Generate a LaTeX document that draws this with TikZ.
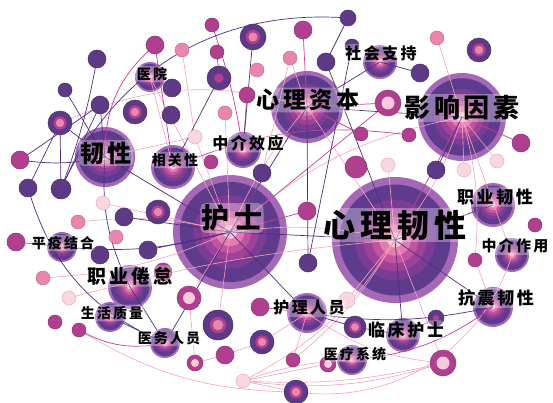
\documentclass[tikz,border=0pt]{standalone}
\usepackage{fontspec}
\newfontfamily\cjk{Noto Sans CJK SC}[LetterSpace=15]
\usetikzlibrary{positioning}

% ring colours of the keyword nodes (outside to centre)
\definecolor{ringA}{HTML}{A468B6}
\definecolor{ringB}{HTML}{5E3B8C}
\definecolor{ringC}{HTML}{7B3C94}
\definecolor{ringD}{HTML}{9C4299}
\definecolor{ringE}{HTML}{C2549F}
\definecolor{ringF}{HTML}{E27DB2}
\definecolor{ringG}{HTML}{F9CBD8}
% small nodes and links
\definecolor{nodedk}{HTML}{5E3A86}
\definecolor{nodemg}{HTML}{B0408F}
\definecolor{nodepk}{HTML}{E886AE}
\definecolor{nodelt}{HTML}{F8D8DE}
\definecolor{edgepk}{HTML}{F6A2BA}
\definecolor{edgemg}{HTML}{C2409A}
\definecolor{edgedk}{HTML}{4F2E80}

\pgfdeclarelayer{paper}
\pgfdeclarelayer{rings}
\pgfdeclarelayer{links}
\pgfsetlayers{paper,rings,links,main}

\tikzset{
  hub/.style={circle,inner sep=0pt,fill=ringA},
  dot/.style={circle,inner sep=0pt,line width=0.5pt},
  dk/.style={dot,fill=nodedk,draw=nodedk!80!black,minimum size=#1*2pt},
  mg/.style={dot,fill=nodemg,draw=nodemg!80!black,minimum size=#1*2pt},
  pk/.style={dot,fill=nodepk,draw=nodepk!85!black,minimum size=#1*2pt},
  lt/.style={dot,fill=nodelt,draw=nodepk!70!white,minimum size=#1*2pt},
  dkpk/.style={dk=#1,path picture={\fill[nodemg] (path picture bounding box.center) circle (#1*0.55pt);
    \fill[nodepk] (path picture bounding box.center) circle (#1*0.35pt);}},
  dkmg/.style={dk=#1,path picture={\fill[nodemg] (path picture bounding box.center) circle (#1*0.4pt);}},
  mglt/.style={mg=#1,path picture={\fill[ringG] (path picture bounding box.center) circle (#1*0.5pt);}},
  ep/.style={edgepk,line width=0.6pt},
  em/.style={edgemg,line width=0.7pt},
  ed/.style={edgedk,line width=0.7pt},
  word/.style={font=\cjk\bfseries,text=black,inner sep=1.5pt,rounded corners=5pt,
    fill=white,fill opacity=0.3,text opacity=1},
}

% keyword node with tree rings
\newcommand{\hubnode}[3]{%
  \begin{pgfonlayer}{rings}
  \node[hub,minimum size={2*#3 pt}] (#1) at (#2) {};
  \foreach \f/\c in {0.88/ringB,0.64/ringC,0.5/ringD,0.37/ringE,0.25/ringF,0.12/ringG}
    \fill[\c] (#1.center) circle ({\f*#3 pt});
  \end{pgfonlayer}}
\newcommand{\kw}[2]{\fontsize{#1}{#1}\selectfont #2}

\begin{document}
\begin{tikzpicture}[x=1pt,y=-1pt]
  \begin{pgfonlayer}{paper}
  \fill[white] (0,0) rectangle (553,403);
  \end{pgfonlayer}
  \useasboundingbox (0,0) rectangle (553,403);

  % keyword nodes
  \hubnode{resil}{395,240}{63}
  \hubnode{nurse}{230,232}{57}
  \hubnode{factor}{462,117}{44}
  \hubnode{capital}{307,107}{36}
  \hubnode{tough}{105,157}{30}
  \hubnode{burnout}{130,287}{22}
  \hubnode{correl}{173,167}{22}
  \hubnode{jobres}{493,205}{22}
  \hubnode{quake}{493,307}{20}
  \hubnode{staff}{307,313}{20}
  \hubnode{mediate}{243,150}{18}
  \hubnode{support}{380,62}{17}
  \hubnode{mediation}{512,255}{17}
  \hubnode{clinic}{403,335}{17}
  \hubnode{medsys}{352,360}{15}
  \hubnode{medstaff}{165,343}{15}
  \hubnode{life}{110,317}{15}
  \hubnode{epid}{62,247}{15}
  \hubnode{hospital}{150,77}{15}

  % small nodes
  \node[mg=9] (a1) at (155,45) {};
  \node[mg=7] (a2) at (212,25) {};
  \node[dkpk=13] (a3) at (253,37) {};
  \node[pk=7] (a4) at (182,50) {};
  \node[mg=7] (a5) at (217,52) {};
  \node[dk=9] (a6) at (97,59) {};
  \node[dk=7] (a7) at (65,90) {};
  \node[dk=9] (a8) at (100,105) {};
  \node[dkpk=12] (a9) at (60,123) {};
  \node[dkpk=12] (a10) at (135,112) {};
  \node[dk=9] (a11) at (172,88) {};
  \node[dkmg=12] (a12) at (219,78) {};
  \node[pk=7] (a13) at (257,70) {};
  \node[mg=8] (a14) at (247,95) {};
  \node[pk=7] (a15) at (225,113) {};
  \node[dk=9] (a16) at (171,115) {};
  \node[lt=7] (a17) at (195,137) {};
  \node[mg=9] (a18) at (20,160) {};
  \node[dk=9] (a19) at (28,188) {};
  \node[dk=10] (a20) at (61,189) {};
  \node[mg=7] (a21) at (211,162) {};
  \node[dk=9] (a22) at (262,173) {};
  \node[dk=8] (b1) at (348,18) {};
  \node[mg=9] (b2) at (303,30) {};
  \node[pk=7] (b3) at (290,58) {};
  \node[dk=9] (b4) at (326,62) {};
  \node[dk=7] (b5) at (352,46) {};
  \node[dk=9] (b6) at (420,73) {};
  \node[pk=7] (b7) at (437,38) {};
  \node[dkpk=12] (b8) at (479,50) {};
  \node[mglt=13] (b9) at (388,103) {};
  \node[mg=7] (b10) at (361,134) {};
  \node[mg=7] (b11) at (409,135) {};
  \node[mg=9] (b12) at (521,143) {};
  \node[lt=7] (b13) at (388,165) {};
  \node[mg=11] (b14) at (356,167) {};
  \node[dk=9] (b15) at (436,170) {};
  \node[lt=7] (b16) at (464,170) {};
  \node[lt=7] (b17) at (497,161) {};
  \node[mg=9] (c1) at (307,211) {};
  \node[mg=7] (c2) at (535,225) {};
  \node[mg=7] (c3) at (475,260) {};
  \node[dk=9] (c4) at (308,263) {};
  \node[lt=8] (c5) at (347,300) {};
  \node[dkpk=11] (c6) at (355,327) {};
  \node[dkmg=8] (c7) at (436,318) {};
  \node[mglt=13] (c8) at (443,363) {};
  \node[mg=7] (c9) at (293,360) {};
  \node[mglt=8] (c10) at (328,364) {};
  \node[dkpk=12] (c11) at (296,392) {};
  \node[lt=7] (d1) at (103,203) {};
  \node[dkpk=12] (d2) at (158,212) {};
  \node[pk=7] (d3) at (78,222) {};
  \node[dk=9] (d4) at (124,217) {};
  \node[pk=7] (d5) at (116,237) {};
  \node[mg=9] (d6) at (16,242) {};
  \node[dk=9] (d7) at (100,255) {};
  \node[dk=9] (d8) at (148,250) {};
  \node[mg=9] (d9) at (163,272) {};
  \node[pk=7] (d10) at (43,278) {};
  \node[lt=7] (d11) at (69,298) {};
  \node[mglt=12] (d12) at (189,298) {};
  \node[mg=7] (d13) at (55,322) {};
  \node[mg=7] (d14) at (79,330) {};
  \node[dkpk=15] (d15) at (218,325) {};
  \node[mg=9] (d16) at (260,307) {};
  \node[dkpk=12] (d17) at (262,342) {};
  \node[mg=9] (d18) at (225,355) {};
  \node[mglt=8] (d19) at (195,363) {};
  \node[lt=7] (d20) at (243,381) {};

  % links
  \begin{pgfonlayer}{links}
  \draw[ep] (nurse.center) to[bend left=10] (resil.center);
  \draw[ep] (nurse.center) -- (capital.center);
  \draw[ep] (nurse.center) to[bend left=8] (capital.center);
  \draw[ep] (nurse.center) to[bend left=15] (factor.center);
  \draw[ep] (resil.center) -- (capital.center);
  \draw[ep] (resil.center) to[bend right=10] (factor.center);
  \draw[ep] (nurse.center) -- (d12.center);
  \draw[ep] (nurse.center) -- (d15.center);
  \draw[ep] (nurse.center) -- (d1.center);
  \draw[ep] (nurse.center) to[bend right=10] (d3.center);
  \draw[ep] (nurse.center) to[bend left=10] (d10.center);
  \draw[ep] (nurse.center) -- (a17.center);
  \draw[ep] (nurse.center) -- (hospital.center);
  \draw[ep] (nurse.center) -- (a15.center);
  \draw[ep] (resil.center) -- (c8.center);
  \draw[ep] (resil.center) -- (c5.center);
  \draw[ep] (resil.center) to[bend left=10] (c9.center);
  \draw[ep] (resil.center) to[bend left=15] (d20.center);
  \draw[ep] (resil.center) -- (jobres.center);
  \draw[ep] (resil.center) -- (b13.center);
  \draw[ep] (d20.center) -- (c11.center);
  \draw[ep] (d20.center) -- (c10.center);
  \draw[ep] (d20.center) to[bend left=8] (medsys.center);
  \draw[ep] (c8.center) to[bend left=8] (d20.center);
  \draw[ep] (c8.center) to[bend left=12] (d20.center);
  \draw[ep] (mediation.center) to[bend left=40] (c11.center);
  \draw[ep] (b7.center) -- (factor.center);
  \draw[ep] (b17.center) -- (factor.center);
  \draw[ep] (b16.center) -- (factor.center);
  \draw[ep] (d19.center) -- (d18.center);
  \draw[ep] (d18.center) -- (d17.center);
  \draw[ep] (d17.center) -- (staff.center);
  \draw[ep] (d19.center) -- (d12.center);
  \draw[ep] (staff.center) -- (c9.center);
  \draw[ep] (staff.center) to[bend right=15] (c8.center);
  \draw[ep] (b3.center) -- (capital.center);
  \draw[ep] (b3.center) -- (a22.center);
  \draw[ep] (a4.center) -- (a17.center);
  \draw[ep] (hospital.center) -- (correl.center);
  \draw[ep] (tough.center) -- (a17.center);
  \draw[ep] (d14.center) to[bend right=15] (c11.center);
  \draw[ep] (capital.center) to[bend right=20] (a9.center);
  \draw[ep] (factor.center) to[bend left=10] (c3.center);
  \draw[ep] (quake.center) -- (c3.center);
  \draw[ep] (mediation.center) -- (factor.center);
  \draw[ep] (d11.center) to[bend left=5] (resil.center);
  \draw[em] (a1.center) to[bend right=25] (tough.center);
  \draw[em] (a1.center) -- (correl.center);
  \draw[em] (a2.center) to[bend left=5] (mediate.center);
  \draw[em] (a5.center) -- (a12.center);
  \draw[em] (capital.center) -- (b9.center);
  \draw[em] (b9.center) -- (nurse.center);
  \draw[em] (b12.center) -- (factor.center);
  \draw[em] (factor.center) -- (resil.center);
  \draw[em] (b11.center) to[bend right=15] (correl.center);
  \draw[em] (epid.center) -- (d6.center);
  \draw[em] (clinic.center) -- (c7.center);
  \draw[em] (medsys.center) to[bend right=15] (quake.center);
  \draw[em] (d14.center) to[bend right=20] (medstaff.center);
  \draw[em] (b2.center) -- (capital.center);
  \draw[em] (a14.center) -- (mediate.center);
  \draw[em] (b10.center) -- (capital.center);
  \draw[em] (c1.center) -- (nurse.center);
  \draw[em] (staff.center) -- (d16.center);
  \draw[ed] (tough.center) -- (a9.center);
  \draw[ed] (tough.center) -- (a8.center);
  \draw[ed] (a7.center) -- (tough.center);
  \draw[ed] (a9.center) -- (a19.center);
  \draw[ed] (a9.center) -- (a20.center);
  \draw[ed] (a8.center) -- (a18.center);
  \draw[ed] (a8.center) -- (a20.center);
  \draw[ed] (a20.center) to[bend left=35] (b1.center);
  \draw[ed] (tough.center) -- (nurse.center);
  \draw[ed] (tough.center) to[bend right=15] (burnout.center);
  \draw[ed] (tough.center) to[bend left=10] (a18.center);
  \draw[ed] (nurse.center) -- (resil.center);
  \draw[ed] (capital.center) -- (nurse.center);
  \draw[ed] (a3.center) -- (mediate.center);
  \draw[ed] (a12.center) -- (correl.center);
  \draw[ed] (resil.center) -- (quake.center);
  \draw[ed] (resil.center) -- (clinic.center);
  \draw[ed] (nurse.center) -- (staff.center);
  \draw[ed] (quake.center) to[bend left=10] (staff.center);
  \draw[ed] (clinic.center) -- (c6.center);
  \draw[ed] (nurse.center) -- (medstaff.center);
  \draw[ed] (burnout.center) -- (medstaff.center);
  \draw[ed] (life.center) -- (medstaff.center);
  \draw[ed] (resil.center) -- (jobres.center);
  \draw[ed] (factor.center) -- (b15.center);
  \draw[ed] (factor.center) -- (capital.center);
  \draw[ed] (support.center) -- (capital.center);
  \draw[ed] (support.center) -- (b6.center);
  \draw[ed] (b4.center) -- (resil.center);
  \draw[ed] (b1.center) -- (b4.center);
  \draw[ed] (b5.center) -- (c4.center);
  \draw[ed] (epid.center) to[bend right=10] (nurse.center);
  \draw[ed] (a19.center) to[bend right=25] (medstaff.center);
  \draw[ed] (a6.center) to[bend left=5] (a20.center);
  \draw[ed] (c4.center) -- (capital.center);
  \draw[ed] (d8.center) -- (nurse.center);
  \draw[ed] (staff.center) -- (c6.center);
  \draw[ed] (d4.center) -- (nurse.center);
  \end{pgfonlayer}

  % keyword labels
  \node[word] (t1) at (395,225) {\kw{32}{心理韧性}};
  \node[word] (t2) at (232,218) {\kw{28}{护士}};
  \node[word] (t3) at (462,108) {\kw{26}{影响因素}};
  \node[word] (t4) at (308,100) {\kw{23}{心理资本}};
  \node[word] (t5) at (106,153) {\kw{24}{韧性}};
  \node[word] (t6) at (130,276) {\kw{19}{职业倦怠}};
  \node[word] (t7) at (248,143) {\kw{16}{中介效应}};
  \node[word] (t8) at (381,53) {\kw{16}{社会支持}};
  \node[word] (t9) at (152,74) {\kw{14}{医院}};
  \node[word] (t10) at (175,160) {\kw{14}{相关性}};
  \node[word] (t11) at (495,197) {\kw{17}{职业韧性}};
  \node[word] (t12) at (515,246) {\kw{15}{中介作用}};
  \node[word] (t13) at (496,298) {\kw{17}{抗震韧性}};
  \node[word] (t14) at (406,330) {\kw{17}{临床护士}};
  \node[word] (t15) at (309,308) {\kw{16}{护理人员}};
  \node[word] (t16) at (355,354) {\kw{14}{医疗系统}};
  \node[word] (t17) at (169,338) {\kw{14}{医务人员}};
  \node[word] (t18) at (112,313) {\kw{14}{生活质量}};
  \node[word] (t19) at (63,243) {\kw{14}{平疫结合}};
\end{tikzpicture}
\end{document}
